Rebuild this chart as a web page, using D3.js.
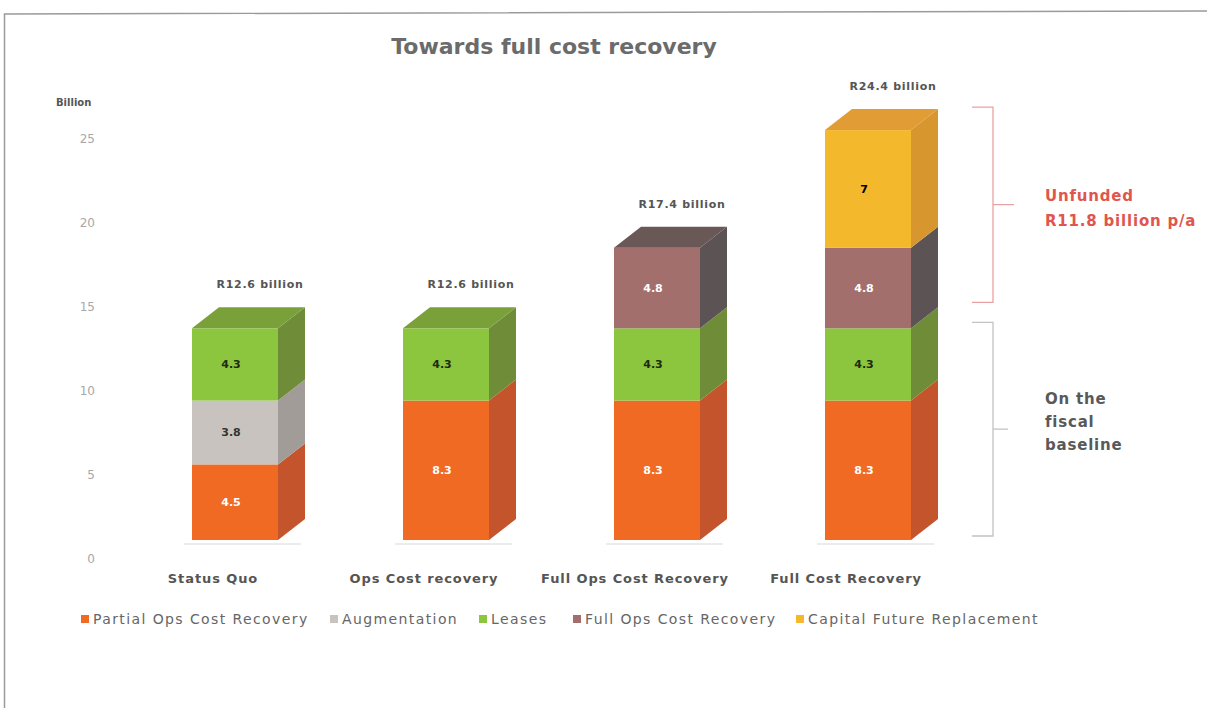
<!DOCTYPE html>
<html>
<head>
<meta charset="utf-8">
<script src="https://cdn.jsdelivr.net/npm/d3@7/dist/d3.min.js"></script>
<style>
  html, body { margin: 0; padding: 0; background: #fff; }
  svg { display: block; font-family: "DejaVu Sans", sans-serif; }
</style>
</head>
<body>
<svg id="chart" width="1207" height="708"></svg>
<script>
// Funding needs per scenario, R billion
const categories = ["Status Quo", "Ops Cost recovery", "Full Ops Cost Recovery", "Full Cost Recovery"];
const seriesNames = ["Partial Ops Cost Recovery", "Augmentation", "Leases", "Full Ops Cost Recovery", "Capital Future Replacement"];
const partialOps = [4.5, 8.3, 8.3, 8.3];
const augmentation = [3.8, 0, 0, 0];
const leases = [4.3, 4.3, 4.3, 4.3];
const fullOps = [0, 0, 4.8, 4.8];
const capitalReplacement = [0, 0, 0, 7];
const yTicks = [0, 5, 10, 15, 20, 25];

const seriesValues = [partialOps, augmentation, leases, fullOps, capitalReplacement];
const faceColors = {
  front: ["#F06A24", "#C9C3BF", "#8CC63F", "#A36F6C", "#F4B82C"],
  side:  ["#C4542C", "#A29C98", "#6F8C38", "#5C5354", "#D8962F"],
  top:   ["#D9602A", "#B5AFAB", "#7AA03A", "#6A5857", "#E29C36"],
  text:  ["#ffffff", "#333333", "#1e2a10", "#ffffff", "#000000"]
};

const svg = d3.select("#chart");
const depthX = 27, depthY = -21;

const x = d3.scaleBand().domain(categories).range([192, 911]).paddingInner(0.5924);
const y = d3.scaleLinear().domain([0, 25]).range([540, 120]);

// frame
svg.append("path")
  .attr("d", "M4.5,708 L4.5,14 L1207,11")
  .attr("fill", "none").attr("stroke", "#9a9a9a").attr("stroke-width", 1.5);

// title
svg.append("text")
  .attr("x", 554).attr("y", 54)
  .attr("text-anchor", "middle")
  .attr("font-size", 22).attr("font-weight", "bold").attr("fill", "#6b6b6b")
  .text("Towards full cost recovery");

// y axis
svg.append("text")
  .attr("x", 56).attr("y", 106)
  .attr("font-size", 10).attr("font-weight", "bold").attr("fill", "#555")
  .text("Billion");

const yAxis = svg.append("g")
  .attr("transform", "translate(95,19)")
  .call(d3.axisLeft(y).tickValues(yTicks).tickSize(0).tickPadding(0));
yAxis.select(".domain").remove();
yAxis.selectAll("text")
  .attr("font-family", "DejaVu Sans, sans-serif")
  .attr("font-size", 12).attr("fill", "#a8a8a8");

// stacked 3D bars
const stacked = categories.map((c, i) => {
  let base = 0;
  const segs = [];
  seriesValues.forEach((vals, s) => {
    const v = vals[i];
    if (v > 0) {
      segs.push({ s, v, y0: base, y1: base + v });
      base += v;
    }
  });
  return { c, total: base, segs };
});

const bw = x.bandwidth();
stacked.forEach(bar => {
  const g = svg.append("g");
  const x0 = x(bar.c), x1 = x0 + bw;

  // floor shadow
  g.append("line")
    .attr("x1", x0 - 8).attr("x2", x1 + depthX - 4)
    .attr("y1", y(0) + 4).attr("y2", y(0) + 4)
    .attr("stroke", "#ececec").attr("stroke-width", 2);

  bar.segs.forEach((seg, k) => {
    const yb = y(seg.y0), yt = y(seg.y1);
    g.append("rect")
      .attr("x", x0).attr("y", yt)
      .attr("width", bw).attr("height", yb - yt)
      .attr("fill", faceColors.front[seg.s]);
    g.append("path")
      .attr("d", `M${x1},${yb} L${x1 + depthX},${yb + depthY} L${x1 + depthX},${yt + depthY} L${x1},${yt} Z`)
      .attr("fill", faceColors.side[seg.s]);
    if (k === bar.segs.length - 1) {
      g.append("path")
        .attr("d", `M${x0},${yt} L${x0 + depthX},${yt + depthY} L${x1 + depthX},${yt + depthY} L${x1},${yt} Z`)
        .attr("fill", faceColors.top[seg.s]);
    }
    g.append("text")
      .attr("x", x0 + bw / 2 - 4).attr("y", (yb + yt) / 2 + 4)
      .attr("text-anchor", "middle")
      .attr("font-size", 11).attr("font-weight", "bold")
      .attr("fill", faceColors.text[seg.s])
      .text(String(seg.v));
  });

  // total label
  g.append("text")
    .attr("x", x0 + bw / 2 + depthX - 2).attr("y", y(bar.total) + depthY - 19)
    .attr("text-anchor", "middle")
    .attr("font-size", 11).attr("font-weight", "bold").attr("fill", "#555")
    .attr("letter-spacing", 0.7)
    .text(`R${bar.total.toFixed(1)} billion`);

  // category label
  g.append("text")
    .attr("x", x0 + bw / 2 - 22).attr("y", 583)
    .attr("text-anchor", "middle")
    .attr("font-size", 13).attr("font-weight", "bold").attr("fill", "#555")
    .attr("letter-spacing", 0.9)
    .text(bar.c);
});

// brackets on the right
const grandTotal = stacked[3].total;
const fundedTotal = stacked[1].total;
function bracket(top, bottom, tipX, color) {
  const xv = 993, mid = (top + bottom) / 2;
  svg.append("path")
    .attr("d", `M972,${top} L${xv},${top} L${xv},${bottom} L972,${bottom} M${xv},${mid} L${tipX},${mid}`)
    .attr("fill", "none").attr("stroke", color).attr("stroke-width", 1.3);
}
bracket(y(grandTotal) + depthY - 2, y(fundedTotal) + depthY - 5, 1014, "#e9a2a2");
bracket(y(fundedTotal) - 6, y(0) - 4, 1008, "#c2c2c2");

const unfunded = fullOps[3] + capitalReplacement[3];
svg.append("text")
  .attr("x", 1045).attr("y", 201)
  .attr("font-size", 15).attr("font-weight", "bold").attr("fill", "#E0564E")
  .attr("letter-spacing", 0.8)
  .selectAll("tspan")
  .data(["Unfunded", `R${unfunded.toFixed(1)} billion p/a`])
  .join("tspan")
  .attr("x", 1045).attr("dy", (d, i) => i ? 25 : 0)
  .text(d => d);

svg.append("text")
  .attr("x", 1045).attr("y", 404)
  .attr("font-size", 15).attr("font-weight", "bold").attr("fill", "#595959")
  .attr("letter-spacing", 0.8)
  .selectAll("tspan")
  .data(["On the", "fiscal", "baseline"])
  .join("tspan")
  .attr("x", 1045).attr("dy", (d, i) => i ? 23 : 0)
  .text(d => d);

// legend
const legendX = [81, 330, 479, 573, 796];
const legend = svg.append("g").attr("transform", "translate(0,620)");
seriesNames.forEach((name, i) => {
  legend.append("rect")
    .attr("x", legendX[i]).attr("y", -5)
    .attr("width", 8).attr("height", 8)
    .attr("fill", faceColors.front[i]);
  legend.append("text")
    .attr("x", legendX[i] + 12).attr("y", 4)
    .attr("font-size", 14).attr("fill", "#666")
    .attr("letter-spacing", 1.4)
    .text(name);
});
</script>
</body>
</html>
